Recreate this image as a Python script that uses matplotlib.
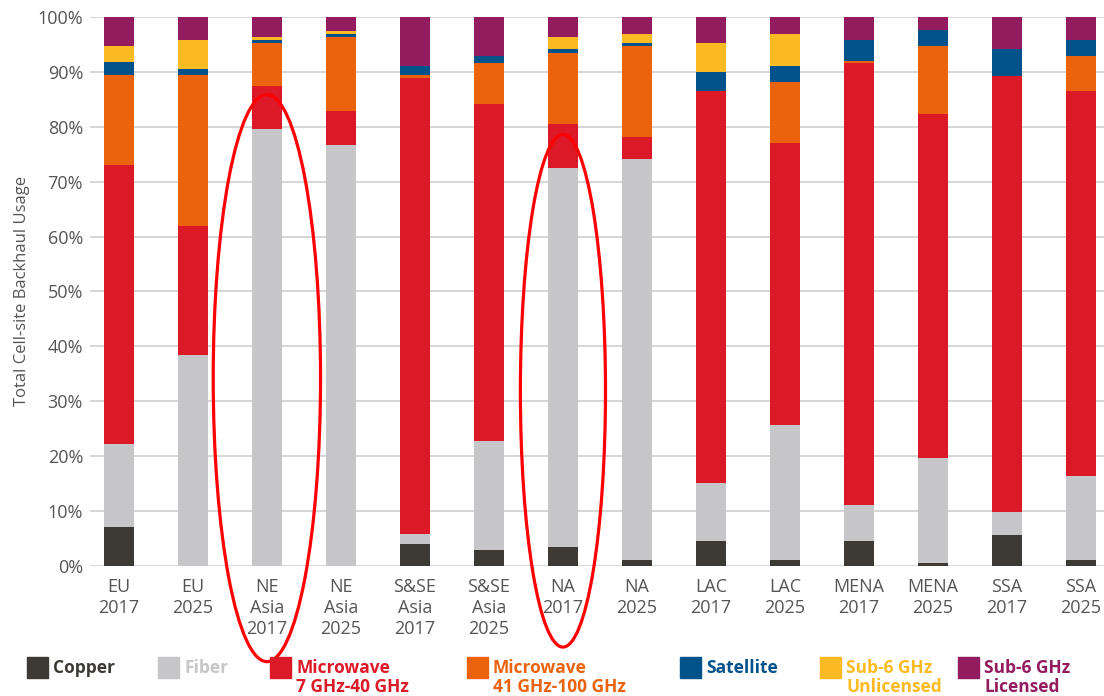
import matplotlib.pyplot as plt
from matplotlib.patches import Ellipse, Rectangle
import numpy as np

plt.rcParams['font.family'] = ['Open Sans', 'DejaVu Sans']

# Uso de backhaul por región y año (%)
regions = ['EU\n2017', 'EU\n2025', 'NE\nAsia\n2017', 'NE\nAsia\n2025', 'S&SE\nAsia\n2017', 'S&SE\nAsia\n2025',
           'NA\n2017', 'NA\n2025', 'LAC\n2017', 'LAC\n2025', 'MENA\n2017', 'MENA\n2025', 'SSA\n2017', 'SSA\n2025']
copper = [7.0, 0, 0, 0, 4.0, 2.8, 3.4, 1.0, 4.6, 1.0, 4.6, 0.5, 5.6, 1.0]
fiber = [15.2, 38.4, 79.5, 76.6, 1.8, 20.0, 69.0, 73.1, 10.5, 24.7, 6.4, 19.2, 4.2, 15.3]
mw_low = [50.8, 23.5, 7.9, 6.3, 83.0, 61.4, 8.1, 4.1, 71.4, 51.4, 80.7, 62.6, 79.5, 70.2]
mw_high = [16.4, 27.5, 7.8, 13.5, 0.6, 7.5, 13.0, 16.5, 0, 11.1, 0.2, 12.4, 0, 6.4]
satellite = [2.4, 1.2, 0.6, 0.5, 1.7, 1.2, 0.6, 0.5, 3.5, 2.9, 3.9, 2.9, 4.8, 2.9]
sub6_unlic = [2.9, 5.2, 0.5, 0.6, 0, 0, 2.3, 1.7, 5.2, 5.8, 0, 0, 0, 0]
sub6_lic = [5.3, 4.2, 3.7, 2.5, 8.9, 7.1, 3.6, 3.1, 4.8, 3.1, 4.2, 2.4, 5.9, 4.2]

series = [copper, fiber, mw_low, mw_high, satellite, sub6_unlic, sub6_lic]
labels = ['Copper', 'Fiber', 'Microwave\n7 GHz-40 GHz', 'Microwave\n41 GHz-100 GHz',
          'Satellite', 'Sub-6 GHz\nUnlicensed', 'Sub-6 GHz\nLicensed']
colors = ['#3d3935', '#c6c6c8', '#dc1a27', '#eb630c', '#00528b', '#fbba22', '#931c5f']

fig = plt.figure(figsize=(11.04, 6.96), dpi=100)
ax = fig.add_axes([0.0815, 0.187, 0.9185, 0.7886])

x = np.arange(len(regions))
bottom = np.zeros(len(regions))
for vals, col in zip(series, colors):
    ax.bar(x, vals, width=0.4, bottom=bottom, color=col, edgecolor='none', zorder=2)
    bottom += np.array(vals)

ax.set_ylim(0, 100)
ax.set_xlim(-0.39, 13.31)
ax.set_yticks(range(0, 101, 10))
ax.set_yticklabels([f'{v}%' for v in range(0, 101, 10)], fontsize=13, color='#555555')
ax.set_xticks(x)
ax.set_xticklabels(regions, fontsize=13, color='#555555', linespacing=1.2, va='top')
ax.tick_params(axis='x', length=0, pad=9)
ax.tick_params(axis='y', length=0, pad=5)
ax.grid(axis='y', color='#d0d0d0', linewidth=1.2, zorder=0)
for s in ax.spines.values():
    s.set_visible(False)
ax.set_ylabel('Total Cell-site Backhaul Usage', fontsize=12, color='#555555', labelpad=5)

# Elipses rojas de resaltado
ax.add_patch(Ellipse((2, 34.2), 1.45, 103.3, fill=False, edgecolor='red', linewidth=2.3, clip_on=False, zorder=5))
ax.add_patch(Ellipse((6, 31.9), 1.15, 93.4, fill=False, edgecolor='red', linewidth=2.3, clip_on=False, zorder=5))

# Leyenda manual
leg_x = [27, 158, 270, 467, 680, 820, 958]
for lx, lab, col in zip(leg_x, labels, colors):
    fig.patches.append(Rectangle((lx / 1104, (696 - 678) / 696), 21 / 1104, 21 / 696,
                                 transform=fig.transFigure, color=col))
    fig.text((lx + 26) / 1104, (696 - 659) / 696, lab, fontsize=12.5, fontweight='bold',
             color=col, va='top', ha='left', linespacing=1.05)

plt.savefig('out.png', dpi=100)
